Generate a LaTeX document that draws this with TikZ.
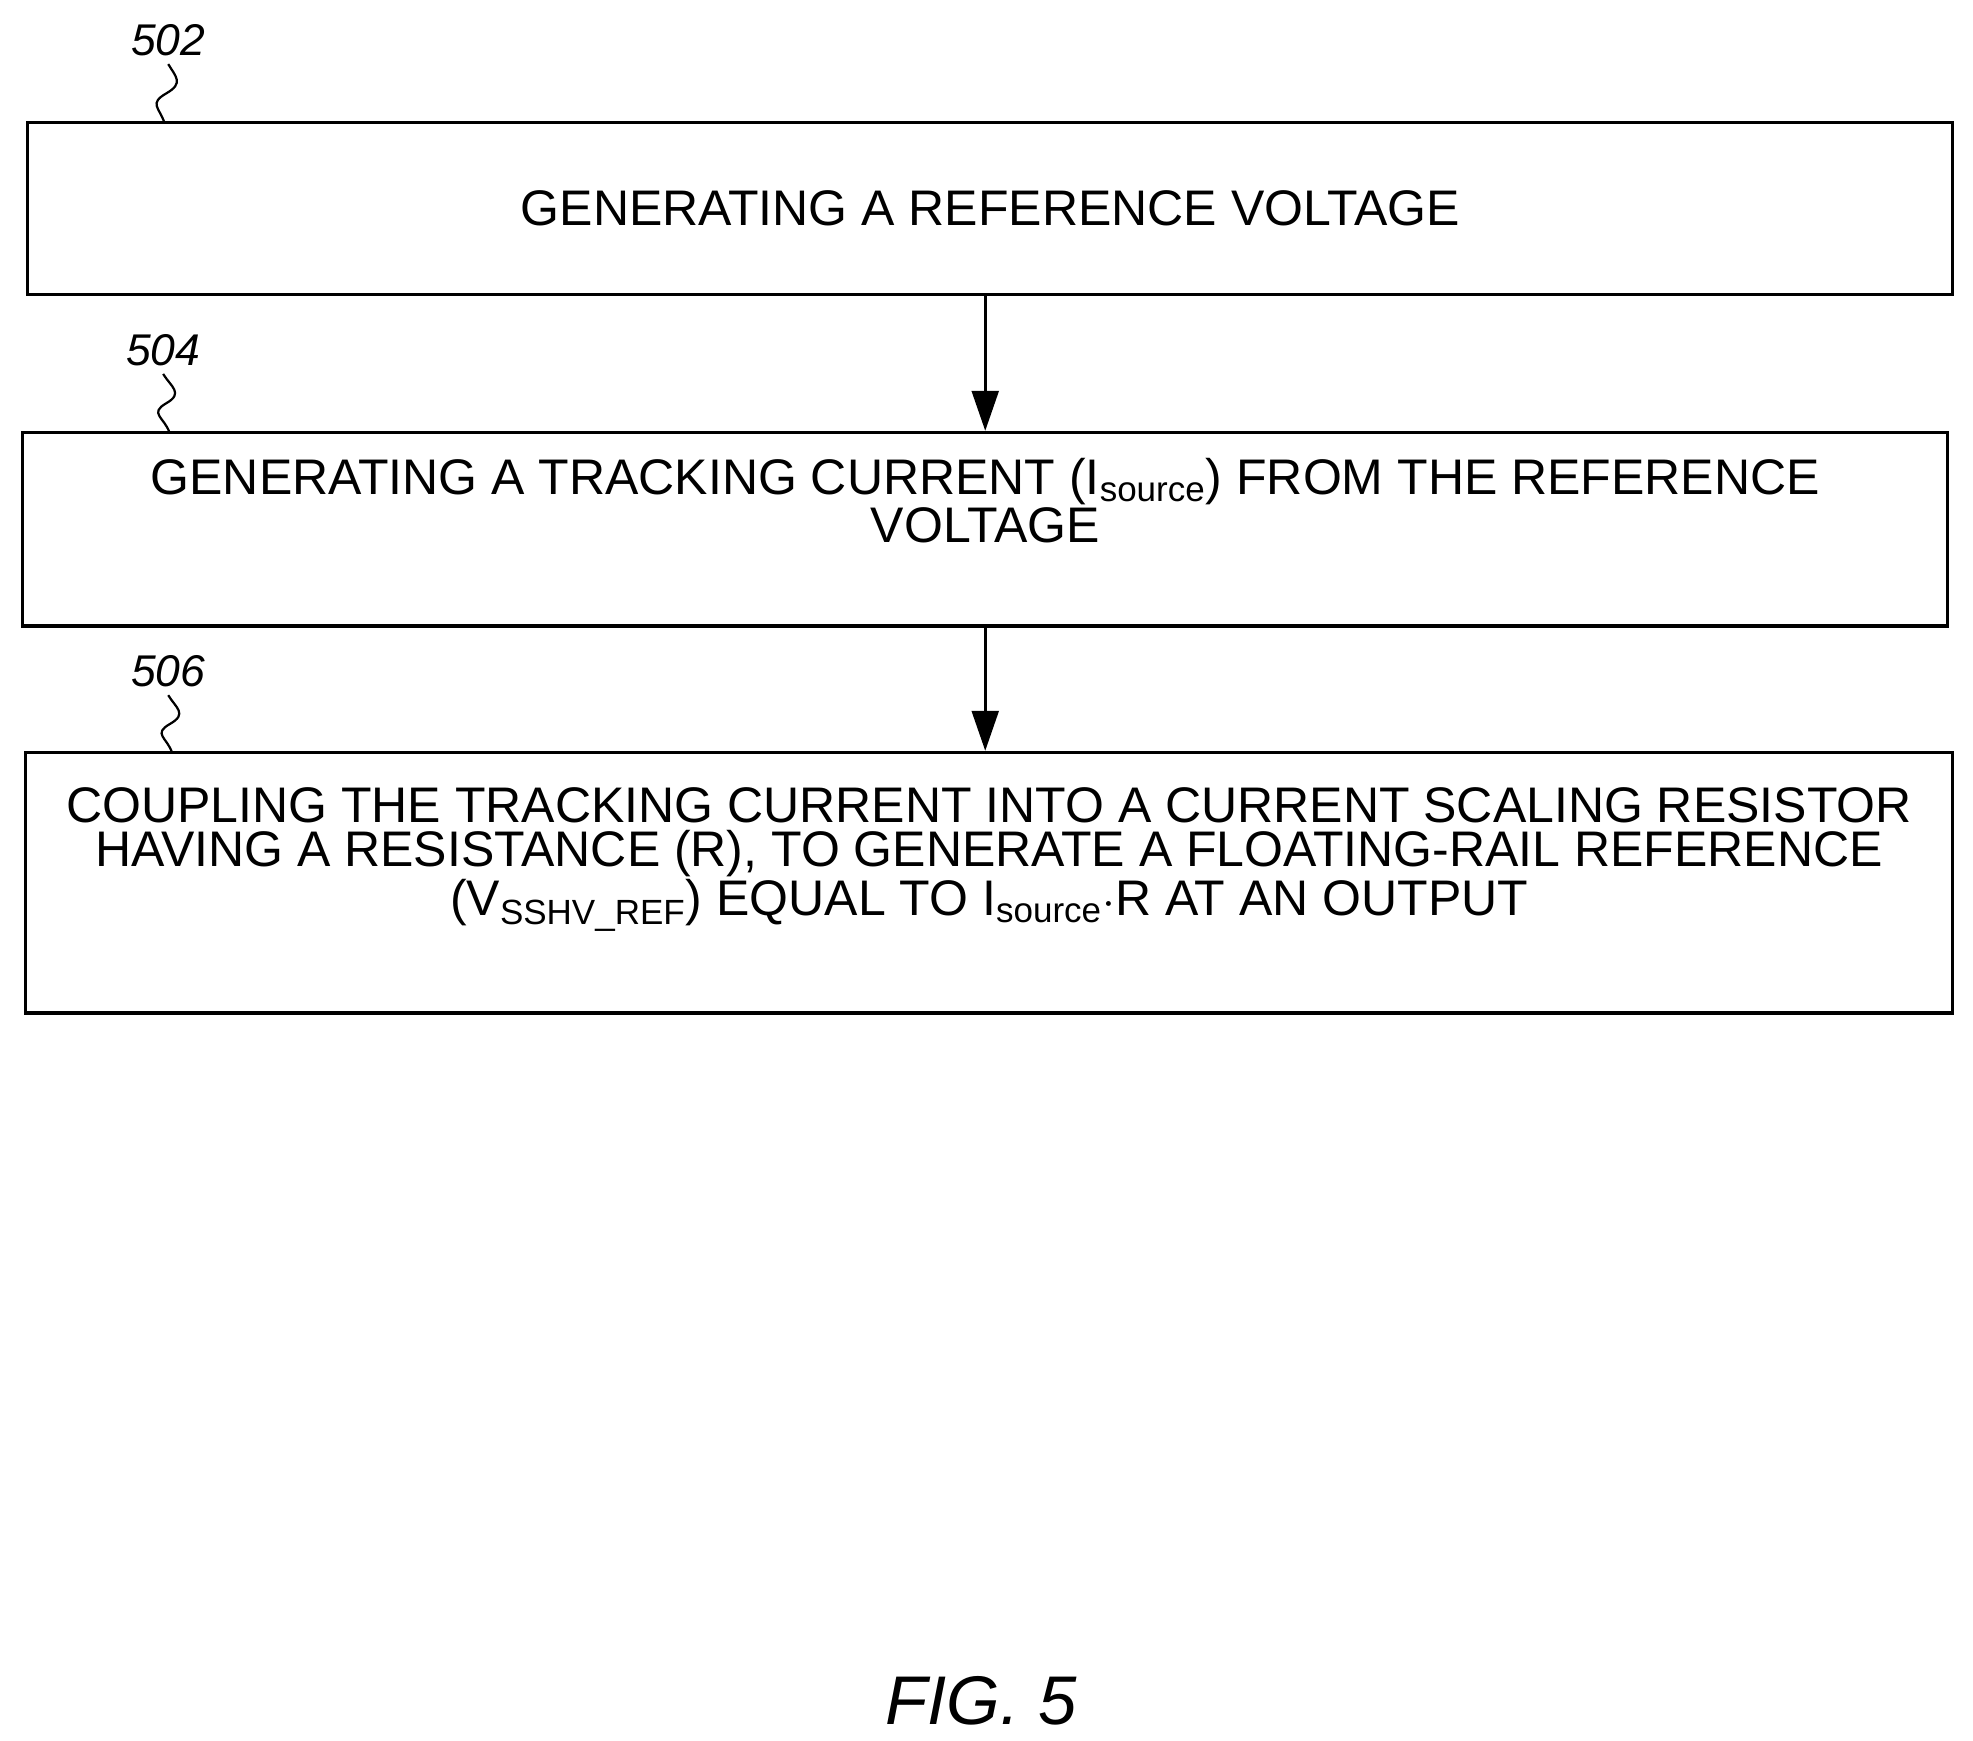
\documentclass[tikz,border=0pt]{standalone}
\usepackage{fontspec}
\setmainfont{Liberation Sans}
\usetikzlibrary{positioning,arrows.meta,calc}
\tikzset{
  stepbox/.style={rectangle, draw, line width=1.5pt, inner sep=0pt, align=center, font=\fontsize{22.5}{20}\selectfont},
  ref/.style={font=\itshape\fontsize{20}{20}\selectfont},
  flow/.style={-{Triangle[length=18pt,width=12pt]}, line width=1.5pt},
  squig/.style={line width=1pt}
}
\newcommand{\sbs}[1]{\textsubscript{#1}}
\begin{document}
\begin{tikzpicture}[x=0.02cm,y=-0.02cm]
\useasboundingbox (0,0) rectangle (1560,1376);
% steps
\node[stepbox, minimum width=1522*0.02cm, minimum height=136*0.02cm] (s502) at (783,165) {\raisebox{-5pt}{GENERATING A REFERENCE VOLTAGE}};
\node[stepbox, minimum width=1522*0.02cm, minimum height=153*0.02cm] (s504) at (779,418.5) {GENERATING A TRACKING CURRENT (I\sbs{source}) FROM THE REFERENCE\\VOLTAGE\\[6pt]};
\node[stepbox, minimum width=1524*0.02cm, minimum height=206*0.02cm] (s506) at (782,698) {COUPLING THE TRACKING CURRENT INTO A CURRENT SCALING RESISTOR\\HAVING A RESISTANCE (R), TO GENERATE A FLOATING-RAIL REFERENCE\\(V\sbs{SSHV\_REF}) EQUAL TO I\sbs{source}$\cdot$R AT AN OUTPUT\\[8pt]};
% reference numerals
\node[ref] (n502) at (133,32) {502};
\node[ref] (n504) at (129,277) {504};
\node[ref] (n506) at (133,531) {506};
\coordinate (t502) at (130,97);
\coordinate (t504) at (134,342);
\coordinate (t506) at (136,595);
\foreach \n in {502,504,506}
  \draw[squig] (n\n.south) .. controls +(6,10) and +(14,-8) .. ($(n\n.south)!0.5!(t\n)$) .. controls +(-14,8) and +(-4,-12) .. (t\n);
% connectors
\draw[flow] (s502.south -| s504.north) -- (s504.north);
\draw[flow] (s504.south) -- (s504.south |- s506.north);
\node[font=\itshape\fontsize{31}{32}\selectfont] (fig) at (776,1345) {FIG. 5};
\end{tikzpicture}
\end{document}
